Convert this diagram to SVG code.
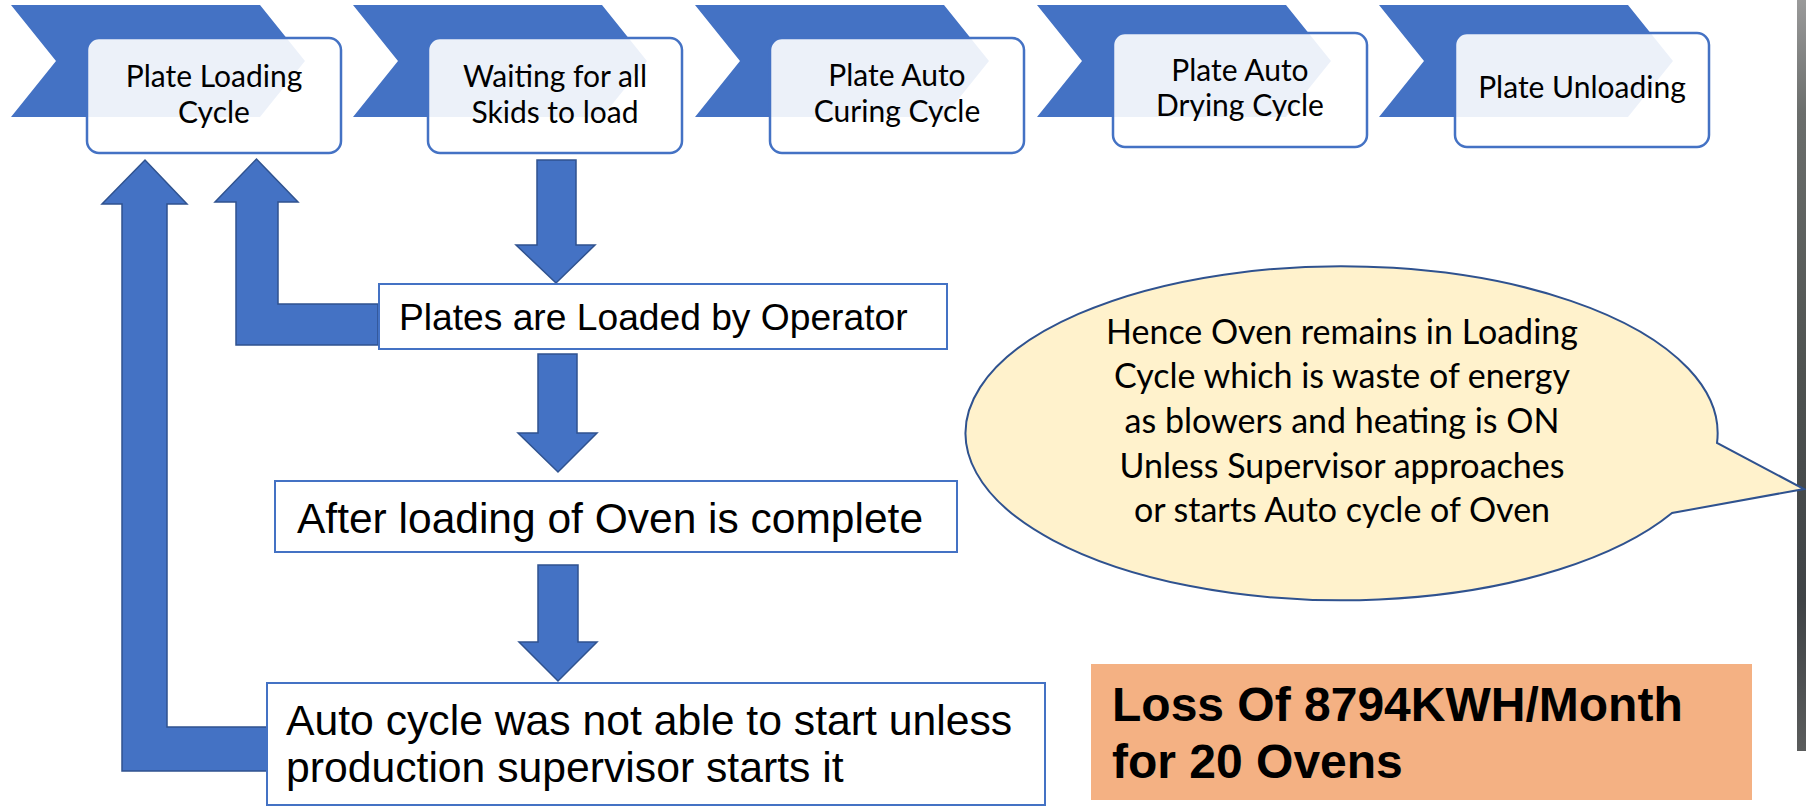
<svg xmlns="http://www.w3.org/2000/svg" width="1806" height="807" viewBox="0 0 1806 807">
<defs>
<style>
.chev{fill:#4472C4;}
.step{fill:#FFFFFF;fill-opacity:0.9;stroke:#4472C4;stroke-width:2.5;}
.steptxt{font-family:Lato,"Liberation Sans",sans-serif;font-size:30px;fill:#000;text-anchor:middle;}
.blk{fill:#4472C4;stroke:#2F528F;stroke-width:1.5;}
.box{fill:#FFFFFF;stroke:#4472C4;stroke-width:2;}
.boxtxt{font-family:"Liberation Sans",Arial,sans-serif;fill:#000;}
.bubtxt{font-family:Lato,"Liberation Sans",sans-serif;font-size:34px;fill:#000;text-anchor:middle;}
</style>
<linearGradient id="strip" x1="0" y1="0" x2="0" y2="1">
<stop offset="0" stop-color="#9a9a9a"/>
<stop offset="0.15" stop-color="#6b6e6c"/>
<stop offset="0.5" stop-color="#4e5250"/>
<stop offset="0.8" stop-color="#3f4346"/>
<stop offset="1" stop-color="#5a5c5c"/>
</linearGradient>
</defs>
<rect x="0" y="0" width="1806" height="807" fill="#FFFFFF"/>
<rect x="1797" y="0" width="9" height="751" fill="url(#strip)"/>

<g id="step1">
<polygon class="chev" points="11,5 260,5 305,61 260,117 11,117 56,61"/>
<rect class="step" x="87" y="38" width="254" height="115" rx="12"/>
<text class="steptxt"><tspan x="214" y="87">Plate Loading</tspan><tspan x="214" y="123">Cycle</tspan></text>
</g>
<g id="step2">
<polygon class="chev" points="353,5 602,5 647,61 602,117 353,117 398,61"/>
<rect class="step" x="428" y="38" width="254" height="115" rx="12"/>
<text class="steptxt"><tspan x="555" y="87">Waiting for all</tspan><tspan x="555" y="123">Skids to load</tspan></text>
</g>
<g id="step3">
<polygon class="chev" points="695,5 944,5 989,61 944,117 695,117 740,61"/>
<rect class="step" x="770" y="38" width="254" height="115" rx="12"/>
<text class="steptxt"><tspan x="897" y="86">Plate Auto</tspan><tspan x="897" y="122">Curing Cycle</tspan></text>
</g>
<g id="step4">
<polygon class="chev" points="1037,5 1286,5 1331,61 1286,117 1037,117 1082,61"/>
<rect class="step" x="1113" y="33" width="254" height="114" rx="12"/>
<text class="steptxt"><tspan x="1240" y="81">Plate Auto</tspan><tspan x="1240" y="116">Drying Cycle</tspan></text>
</g>
<g id="step5">
<polygon class="chev" points="1379,5 1628,5 1673,61 1628,117 1379,117 1424,61"/>
<rect class="step" x="1455" y="33" width="254" height="114" rx="12"/>
<text class="steptxt" x="1582" y="98">Plate Unloading</text>
</g>

<g id="connectors">
<path class="blk" d="M267,727 L167,727 L167,204 L187,204 L145,160 L102,204 L122,204 L122,771 L267,771 Z"/>
<path class="blk" d="M378,304 L278,304 L278,202 L298,202 L256.5,159 L215,202 L236,202 L236,345 L378,345 Z"/>
<path class="blk" d="M537,160 L576,160 L576,245 L595,245 L556,283 L516,245 L537,245 Z"/>
<path class="blk" d="M538,354 L577,354 L577,433 L597,433 L558,472 L518,433 L538,433 Z"/>
<path class="blk" d="M538,565 L578,565 L578,642 L597,642 L558,681 L519,642 L538,642 Z"/>
</g>

<g id="plates">
<rect class="box" x="379" y="284" width="568" height="65"/>
<text class="boxtxt" x="399" y="330" font-size="37.2">Plates are Loaded by Operator</text>
</g>
<g id="after">
<rect class="box" x="275" y="481" width="682" height="71"/>
<text class="boxtxt" x="297" y="533" font-size="42.5">After loading of Oven is complete</text>
</g>
<g id="auto">
<rect class="box" x="267" y="683" width="778" height="122"/>
<text class="boxtxt" font-size="42.7"><tspan x="286" y="735">Auto cycle was not able to start unless</tspan><tspan x="286" y="782">production supervisor starts it</tspan></text>
</g>

<g id="bubble">
<path d="M1717,443 A376,167 0 1 0 1672,513 L1804,489 Z" fill="#FFF2CC" stroke="#2F528F" stroke-width="2"/>
<text class="bubtxt"><tspan x="1342" y="344">Hence Oven remains in Loading</tspan><tspan x="1342" y="388">Cycle which is waste of energy</tspan><tspan x="1342" y="433">as blowers and heating is ON</tspan><tspan x="1342" y="478">Unless Supervisor approaches</tspan><tspan x="1342" y="522">or starts Auto cycle of Oven</tspan></text>
</g>

<g id="loss">
<rect x="1091" y="664" width="661" height="136" fill="#F4B183"/>
<text class="boxtxt" font-size="48" font-weight="bold"><tspan x="1112" y="721">Loss Of 8794KWH/Month</tspan><tspan x="1112" y="778">for 20 Ovens</tspan></text>
</g>
</svg>
